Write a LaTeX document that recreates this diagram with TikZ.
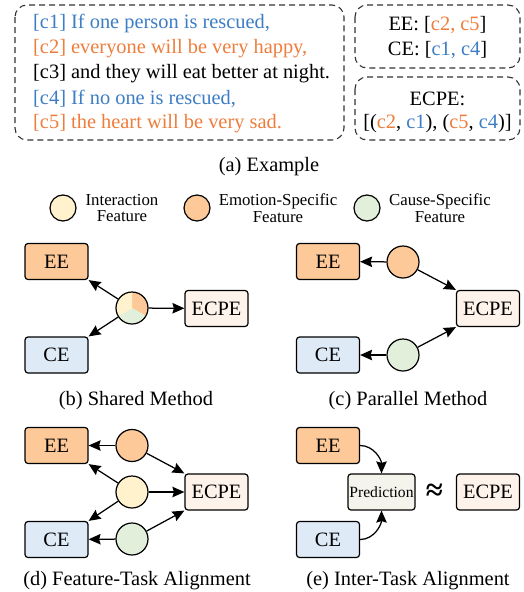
\documentclass[tikz,border=0pt]{standalone}
\usepackage{fontspec}
\setmainfont{Liberation Serif}
\usetikzlibrary{arrows.meta}
\definecolor{tblue}{HTML}{3C7DC4}
\definecolor{torange}{HTML}{EE7D3C}
\definecolor{forange}{HTML}{FDC998}
\definecolor{fyellow}{HTML}{FFF2CC}
\definecolor{fgreen}{HTML}{E2EFDA}
\definecolor{fblue}{HTML}{DEEAF6}
\definecolor{fecpe}{HTML}{FDF3EA}
\definecolor{fpred}{HTML}{F5F4EC}
\definecolor{dashgray}{HTML}{333333}
\begin{document}
\begin{tikzpicture}[x=1pt,y=1pt,
  bigfont/.style={font=\fontsize{20.4}{25}\selectfont},
  task/.style={draw=black, line width=1.2pt, rounded corners=3pt, minimum width=63pt, minimum height=36pt, inner sep=0pt, bigfont},
  eebox/.style={task, fill=forange},
  cebox/.style={task, fill=fblue},
  ecpebox/.style={task, fill=fecpe},
  predbox/.style={task, fill=fpred, minimum width=67pt, font=\fontsize{15.6}{18}\selectfont},
  feat/.style={circle, draw=black, line width=1.2pt, minimum size=32pt, inner sep=0pt},
  legfeat/.style={circle, draw=black, line width=1.2pt, minimum size=26pt, inner sep=0pt},
  arr/.style={-{Stealth[length=12pt,width=10.5pt,inset=1.5pt]}, line width=1.25pt},
  dbox/.style={draw=dashgray, dash pattern=on 6pt off 4pt, line width=1.1pt, rounded corners=12pt},
  captxt/.style={bigfont},
  legtext/.style={font=\fontsize{16.8}{16.5}\selectfont, align=center},
  txtline/.style={anchor=west, bigfont, inner sep=0pt}
]
\useasboundingbox (0,0) rectangle (523,-592);

% ---------- (a) Example ----------
\draw[dbox] (15,-5) rectangle (344,-140);
\draw[dbox] (355,-5) rectangle (520,-68);
\draw[dbox] (355,-77) rectangle (520,-140);

\node[txtline, text=tblue]   (l1) at (33,-23.5) {[c1] If one person is rescued,};
\node[txtline, text=torange] (l2) at (33,-49)   {[c2] everyone will be very happy,};
\node[txtline]               (l3) at (33,-74)   {[c3] and they will eat better at night.};
\node[txtline, text=tblue]   (l4) at (33,-98.5) {[c4] If no one is rescued,};
\node[txtline, text=torange] (l5) at (33,-123.5){[c5] the heart will be very sad.};

\node[bigfont] (eeans) at (437.5,-24.5) {EE: [\textcolor{torange}{c2, c5}]};
\node[bigfont] (ceans) at (437.5,-50) {CE: [\textcolor{tblue}{c1, c4}]};
\node[bigfont] (ecpet) at (437.5,-98.5) {ECPE:};
\node[bigfont] (ecpeans) at (437.5,-124) {[(\textcolor{torange}{c2}, \textcolor{tblue}{c1}), (\textcolor{torange}{c5}, \textcolor{tblue}{c4})]};

\node[captxt] (capa) at (269,-167) {(a) Example};

% ---------- legend ----------
\node[legfeat, fill=fyellow] (ly) at (63,-208) {};
\node[legtext] (lyt) at (122,-208) {Interaction\\Feature};
\node[legfeat, fill=forange] (lo) at (197,-208) {};
\node[legtext] (lot) at (278,-208) {Emotion-Specific\\Feature};
\node[legfeat, fill=fgreen] (lg) at (367,-208) {};
\node[legtext] (lgt) at (440,-208) {Cause-Specific\\Feature};

% ---------- (b) Shared Method ----------
\node[eebox] (eeb) at (56.5,-261.5) {EE};
\node[cebox] (ceb) at (56.5,-355) {CE};
\node[ecpebox] (ecpeb) at (216.5,-308.5) {ECPE};
\coordinate (cbc) at (132,-308);
\fill[forange] (cbc) -- ++(90:16pt) arc[start angle=90,end angle=-30,radius=16pt] -- cycle;
\fill[fgreen] (cbc) -- ++(-30:16pt) arc[start angle=-30,end angle=-150,radius=16pt] -- cycle;
\fill[fyellow] (cbc) -- ++(210:16pt) arc[start angle=210,end angle=90,radius=16pt] -- cycle;
\node[feat] (cb) at (cbc) {};
\draw[arr] (cb) -- (eeb.south east);
\draw[arr] (cb) -- (ceb.north east);
\draw[arr] (cb) -- (ecpeb);
\node[captxt] (capb) at (136,-401) {(b) Shared Method};

% ---------- (c) Parallel Method ----------
\node[eebox] (eec) at (328,-261.5) {EE};
\node[cebox] (cec) at (328,-355) {CE};
\node[ecpebox] (ecpec) at (488,-308.5) {ECPE};
\node[feat, fill=forange] (oc) at (403,-262) {};
\node[feat, fill=fgreen] (gc) at (403,-355) {};
\draw[arr] (oc) -- (eec);
\draw[arr] (gc) -- (cec);
\draw[arr] (oc) -- (ecpec.north west);
\draw[arr] (gc) -- (ecpec.south west);
\node[captxt] (capc) at (408,-401) {(c) Parallel Method};

% ---------- (d) Feature-Task Alignment ----------
\node[eebox] (eed) at (56.5,-445.5) {EE};
\node[cebox] (ced) at (56.5,-539.5) {CE};
\node[ecpebox] (ecped) at (216.5,-492) {ECPE};
\node[feat, fill=forange] (od) at (132,-445.5) {};
\node[feat, fill=fyellow] (yd) at (132,-492) {};
\node[feat, fill=fgreen] (gd) at (132,-539) {};
\draw[arr] (od) -- (eed);
\draw[arr] (od) -- (ecped.north west);
\draw[arr] (yd) -- (eed.south east);
\draw[arr] (yd) -- (ced.north east);
\draw[arr] (yd) -- (ecped);
\draw[arr] (gd) -- (ced);
\draw[arr] (gd) -- (ecped.south west);
\node[captxt] (capd) at (137,-581) {(d) Feature-Task Alignment};

% ---------- (e) Inter-Task Alignment ----------
\node[eebox] (eee) at (328,-445.5) {EE};
\node[cebox] (cee) at (328,-539.5) {CE};
\node[predbox] (pred) at (381.5,-492) {Prediction};
\node[inner sep=0pt, font=\fontsize{31}{31}\selectfont\bfseries] (apx) at (434.5,-492) {≈};
\node[ecpebox] (ecpee) at (488,-492) {ECPE};
\draw[arr] (eee.east) to[out=0,in=90] (pred.north);
\draw[arr] (cee.east) to[out=0,in=-90] (pred.south);
\node[captxt] (cape) at (408,-581) {(e) Inter-Task Alignment};
\end{tikzpicture}
\end{document}
